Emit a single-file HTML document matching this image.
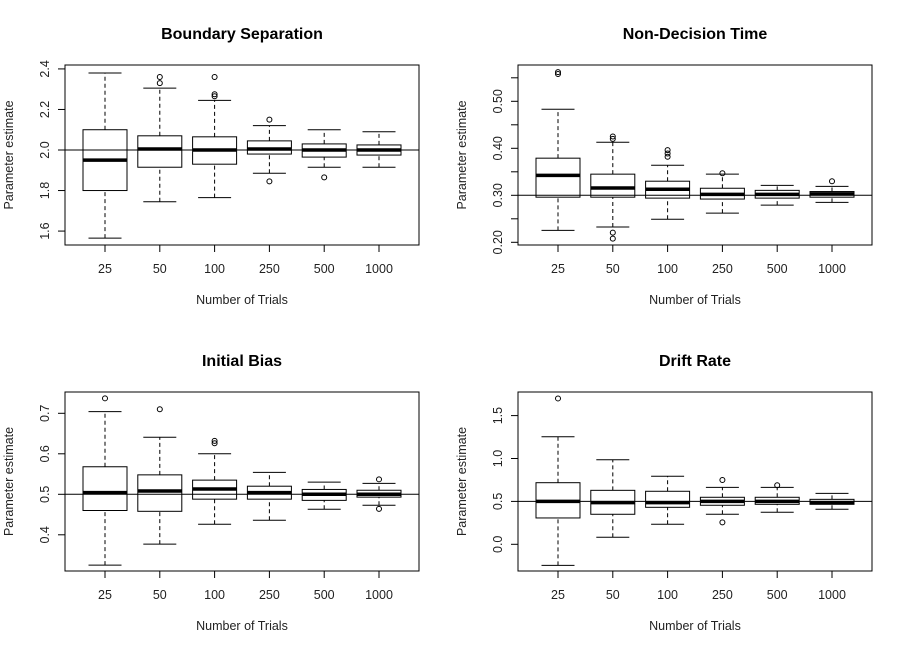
<!DOCTYPE html>
<html><head><meta charset="utf-8"><style>
body{margin:0;background:#fff}
svg{display:block;font-family:"Liberation Sans",Arial,sans-serif}
</style></head><body>
<svg id="chart" width="906" height="653" viewBox="0 0 906 653"></svg>
<script>
const categories = ["25","50","100","250","500","1000"];
// boundary separation: [lo, q1, med, q3, hi]
const bsStats = [[1.565,1.80,1.95,2.10,2.38],[1.745,1.915,2.005,2.07,2.305],[1.765,1.93,2.0,2.065,2.245],[1.885,1.98,2.005,2.045,2.12],[1.915,1.965,2.0,2.03,2.10],[1.915,1.975,2.0,2.025,2.09]];
const bsOut = [[],[2.33,2.36],[2.265,2.275,2.36],[2.15,1.845],[1.865],[]];
const ndStats = [[0.2255,0.296,0.3425,0.379,0.483],[0.2325,0.296,0.3155,0.345,0.413],[0.249,0.294,0.313,0.33,0.364],[0.262,0.292,0.302,0.315,0.345],[0.279,0.294,0.302,0.3105,0.321],[0.285,0.296,0.303,0.308,0.319]];
const ndOut = [[0.558,0.562],[0.42,0.425,0.2205,0.2077],[0.382,0.389,0.396],[0.347],[],[0.330]];
const ibStats = [[0.325,0.46,0.504,0.568,0.704],[0.377,0.458,0.508,0.548,0.641],[0.426,0.488,0.513,0.535,0.6],[0.436,0.488,0.504,0.52,0.554],[0.463,0.485,0.5,0.512,0.53],[0.473,0.493,0.5,0.51,0.527]];
const ibOut = [[0.737],[0.71],[0.626,0.632],[],[],[0.537,0.464]];
const drStats = [[-0.245,0.307,0.5,0.718,1.254],[0.082,0.35,0.485,0.629,0.986],[0.233,0.431,0.485,0.618,0.793],[0.35,0.455,0.5,0.548,0.664],[0.373,0.466,0.5,0.548,0.664],[0.408,0.466,0.485,0.524,0.594]];
const drOut = [[1.70],[],[],[0.749,0.256],[0.688],[]];
const bsTicks = [1.6,1.8,2.0,2.2,2.4];
const ndTicks = [0.20,0.25,0.30,0.35,0.40,0.45,0.50,0.55];
const ibTicks = [0.4,0.5,0.6,0.7];
const drTicks = [0.0,0.5,1.0,1.5];

const NS="http://www.w3.org/2000/svg";
const svg=document.getElementById('chart');
function mk(tag,attrs,parent,text){const e=document.createElementNS(NS,tag);for(const k in attrs)e.setAttribute(k,attrs[k]);if(text!==undefined)e.textContent=text;(parent||svg).appendChild(e);return e;}

const panels=[
 {name:'boundary-separation',title:'Boundary Separation',x0:65,x1:419,y0:65,y1:245,v0:2.0,p0:150,scale:202.7,ref:2.0,stats:bsStats,out:bsOut,ticks:bsTicks,fmt:v=>v.toFixed(1),lab:v=>true},
 {name:'non-decision-time',title:'Non-Decision Time',x0:518,x1:872,y0:65,y1:245,v0:0.3,p0:195.3,scale:470,ref:0.3,stats:ndStats,out:ndOut,ticks:ndTicks,fmt:v=>v.toFixed(2),lab:(v,i)=>i%2===0},
 {name:'initial-bias',title:'Initial Bias',x0:65,x1:419,y0:392,y1:571,v0:0.5,p0:494.3,scale:405,ref:0.5,stats:ibStats,out:ibOut,ticks:ibTicks,fmt:v=>v.toFixed(1),lab:v=>true},
 {name:'drift-rate',title:'Drift Rate',x0:518,x1:872,y0:392,y1:571,v0:0.0,p0:544.3,scale:85.8,ref:0.5,stats:drStats,out:drOut,ticks:drTicks,fmt:v=>v.toFixed(1),lab:v=>true}
];
panels.forEach(p=>{
 const g=mk('g',{});
 
 
 const y=v=>p.p0-(v-p.v0)*p.scale;
 const xc=i=>p.x0+40+i*54.8;
 const t=mk('text',{x:(p.x0+p.x1)/2,y:p.y0-26,'text-anchor':'middle','font-size':'16','font-weight':'bold'},g,p.title);
 
 
 const ya=mk('g',{},g);
 
 
 p.ticks.forEach((v,i)=>{
  mk('line',{x1:p.x0-7,x2:p.x0,y1:y(v),y2:y(v),stroke:'#000'},ya);
  if(p.lab(v,i)){const tl=mk('text',{x:0,y:0,transform:`translate(${p.x0-16},${y(v)}) rotate(-90)`,'text-anchor':'middle','font-size':'12.5',fill:'#222'},ya,p.fmt(v));
   
   }
 });
 const yt=mk('text',{transform:`translate(${p.x0-52},${(p.y0+p.y1)/2}) rotate(-90)`,'text-anchor':'middle','font-size':'12.5',fill:'#222'},g,'Parameter estimate');
 
 
 categories.forEach((c,i)=>{
  mk('line',{x1:xc(i),x2:xc(i),y1:p.y1,y2:p.y1+7,stroke:'#000'},g);
  const xl=mk('text',{x:xc(i),y:p.y1+28,'text-anchor':'middle','font-size':'12.5',fill:'#222'},g,c);
  
  
 });
 const xt=mk('text',{x:(p.x0+p.x1)/2,y:p.y1+59,'text-anchor':'middle','font-size':'12.5',fill:'#222'},g,'Number of Trials');
 
 
 p.stats.forEach((s,i)=>{
  const bg=mk('g',{},g);
  
  
  const cx=xc(i),hw=22,cw=16.5;
  mk('line',{x1:cx,x2:cx,y1:y(s[0]),y2:y(s[1]),stroke:'#000','stroke-dasharray':'4,3'},bg);
  mk('line',{x1:cx,x2:cx,y1:y(s[3]),y2:y(s[4]),stroke:'#000','stroke-dasharray':'4,3'},bg);
  mk('line',{x1:cx-cw,x2:cx+cw,y1:y(s[0]),y2:y(s[0]),stroke:'#000'},bg);
  mk('line',{x1:cx-cw,x2:cx+cw,y1:y(s[4]),y2:y(s[4]),stroke:'#000'},bg);
  mk('rect',{x:cx-hw,y:y(s[3]),width:2*hw,height:y(s[1])-y(s[3]),fill:'none',stroke:'#000'},bg);
  mk('line',{x1:cx-hw,x2:cx+hw,y1:y(s[2]),y2:y(s[2]),stroke:'#000','stroke-width':'3.5'},bg);
  p.out[i].forEach(o=>{const c=mk('circle',{cx:cx,cy:y(o),r:2.5,fill:'none',stroke:'#000'},bg);
   
   });
 });
 const rl=mk('line',{x1:p.x0,x2:p.x1,y1:y(p.ref),y2:y(p.ref),stroke:'#000'},g);
 
 
 mk('rect',{x:p.x0,y:p.y0,width:p.x1-p.x0,height:p.y1-p.y0,fill:'none',stroke:'#000'},g);
});
</script>
</body></html>
